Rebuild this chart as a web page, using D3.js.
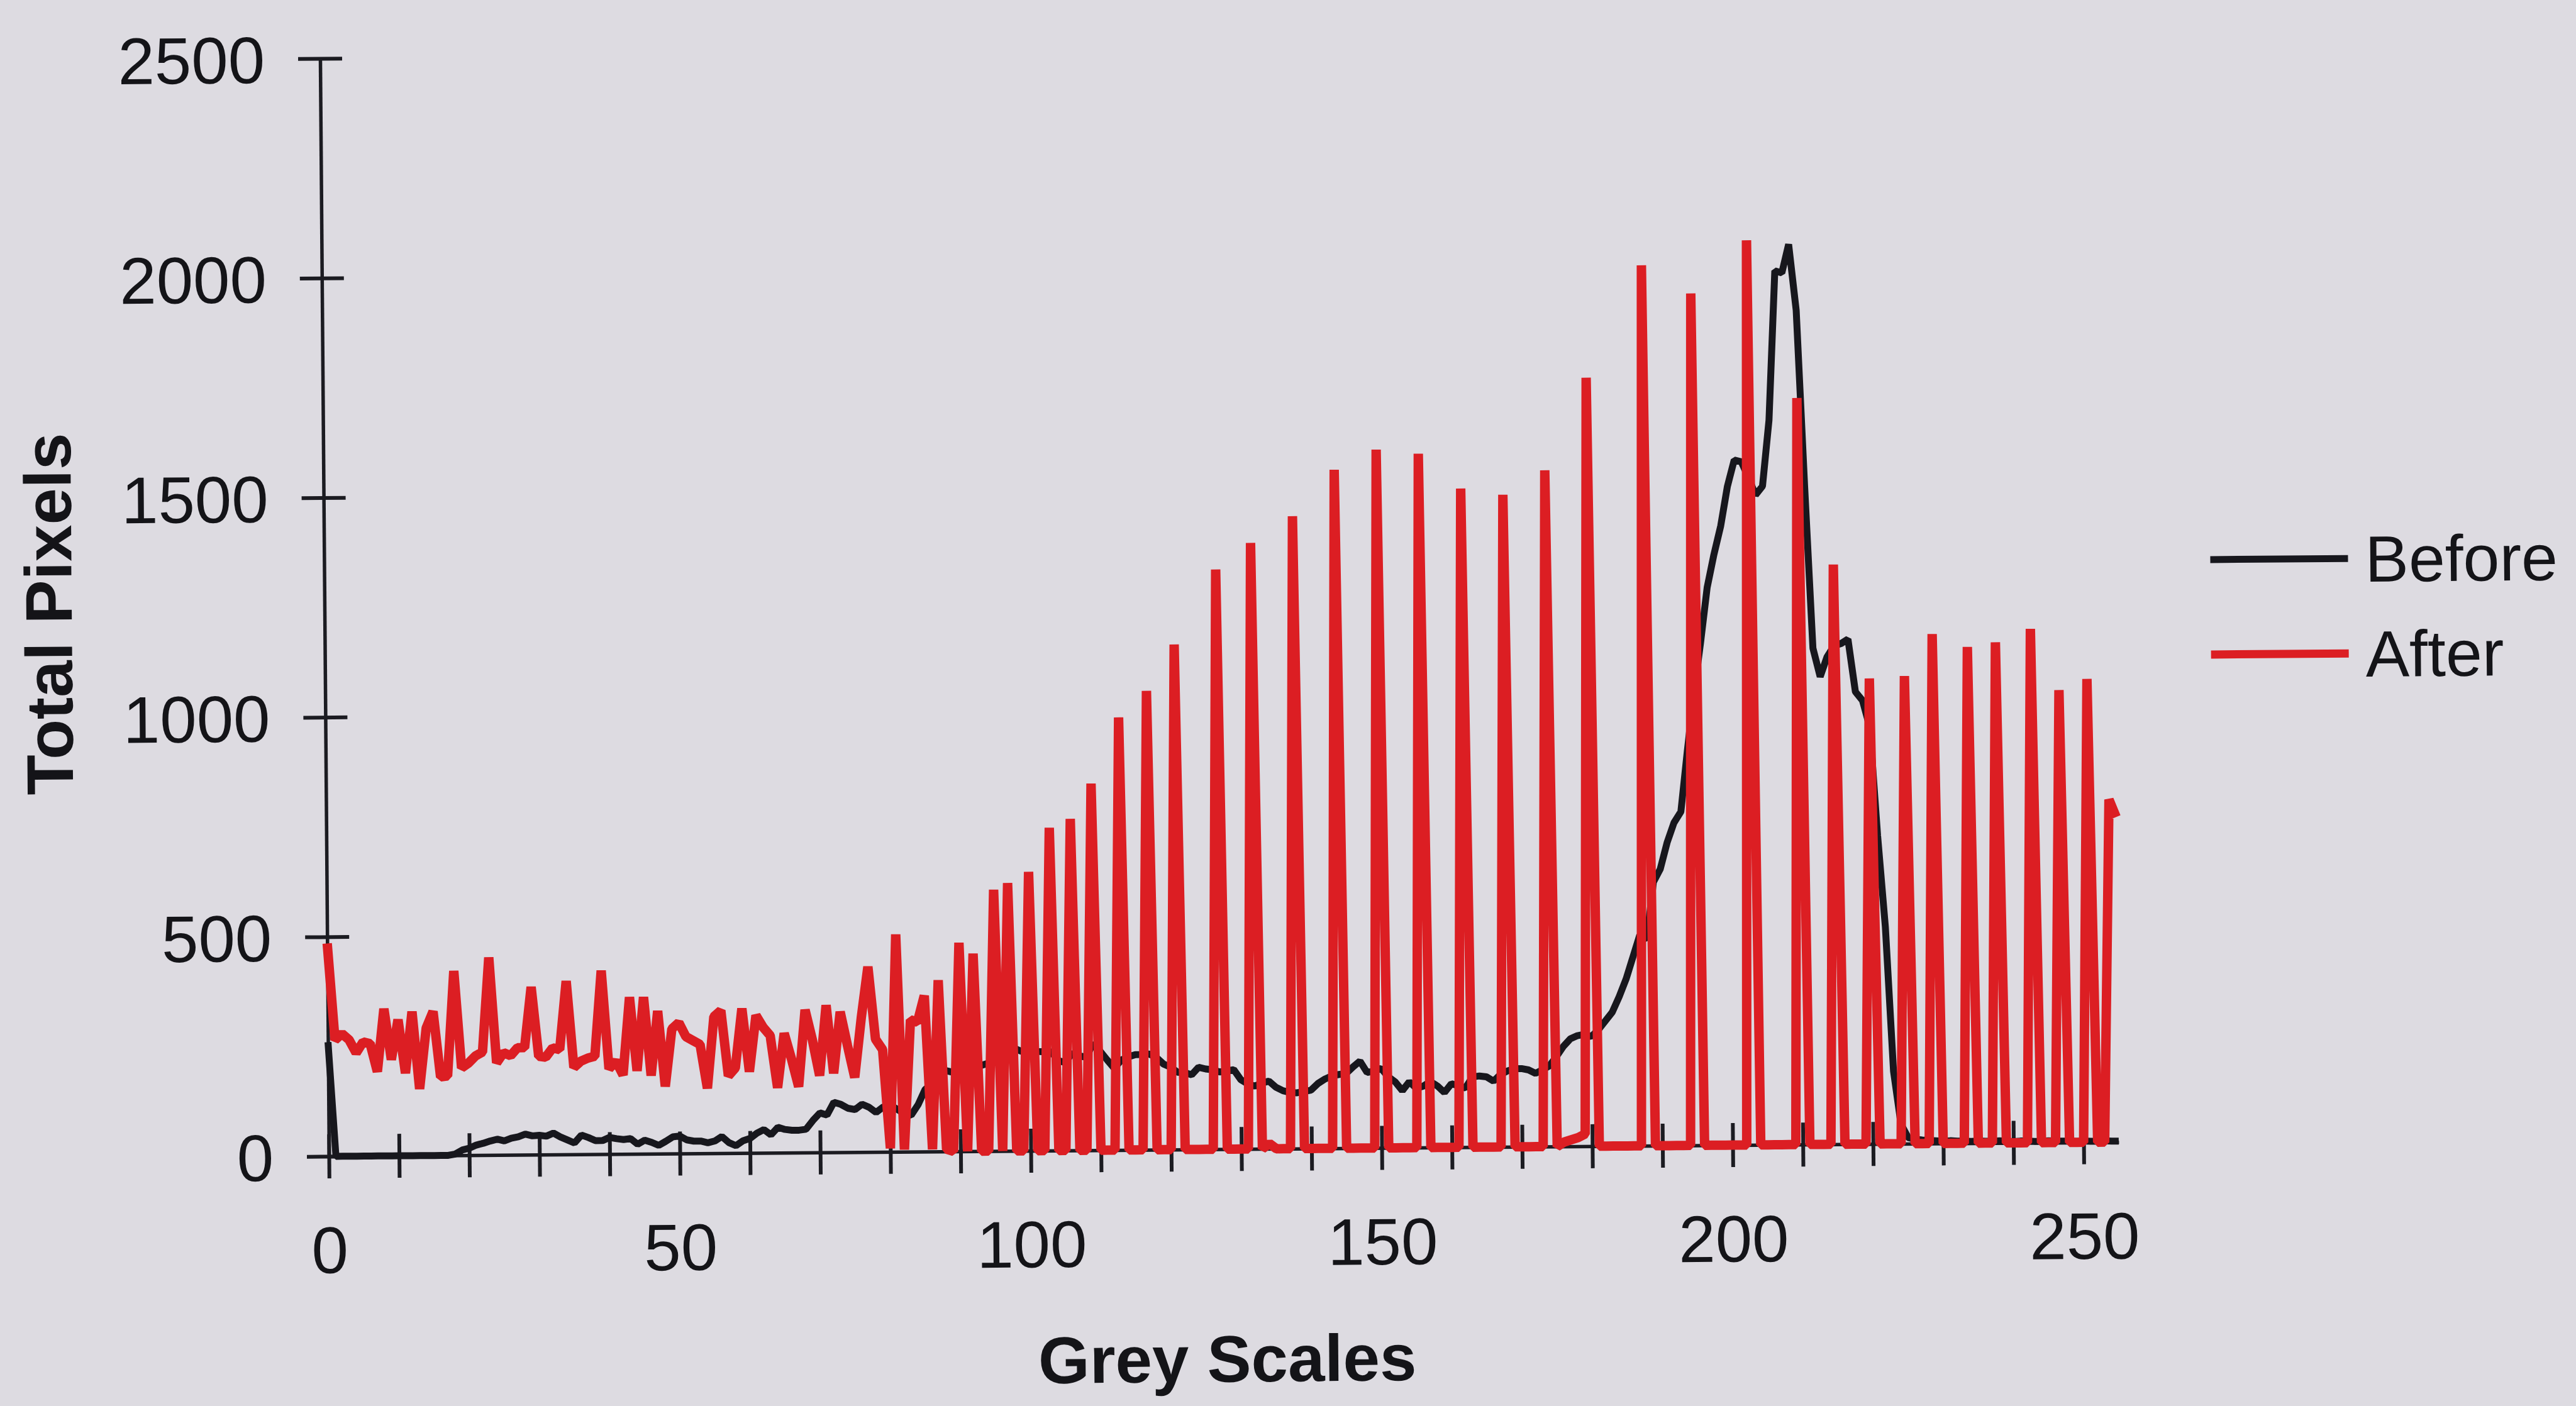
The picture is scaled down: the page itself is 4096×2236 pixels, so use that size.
<!DOCTYPE html>
<html>
<head>
<meta charset="utf-8">
<script src="https://cdn.jsdelivr.net/npm/d3@7"></script>
<style>
  html, body { margin: 0; padding: 0; background: #dddbe1; }
  svg { display: block; }
  text { font-family: "Liberation Sans", Arial, Helvetica, sans-serif; fill: #141418; }
</style>
</head>
<body>
<script>
// grey level histogram
const greyLevels = d3.range(0, 256);

const beforePixels = [
  260, 0, 0, 0, 0, 0, 0, 0, 0, 0,
  0, 0, 0, 0, 0, 0, 0, 0, 3, 12,
  16, 23, 27, 32, 36, 32, 38, 41, 47, 43,
  44, 42, 49, 40, 33, 26, 44, 38, 31, 31,
  38, 35, 33, 35, 22, 31, 26, 19, 28, 38,
  40, 31, 28, 28, 24, 28, 38, 24, 17, 28,
  33, 45, 53, 41, 58, 53, 51, 51, 53, 73,
  90, 85, 114, 109, 100, 97, 109, 102, 90, 102,
  107, 97, 87, 83, 107, 141, 155, 170, 184, 180,
  175, 190, 208, 195, 200, 208, 225, 238, 232, 225,
  230, 226, 225, 225, 205, 200, 221, 215, 212, 243,
  225, 205, 186, 205, 212, 217, 217, 218, 210, 195,
  188, 176, 175, 170, 187, 183, 181, 176, 178, 181,
  158, 148, 143, 150, 154, 140, 132, 128, 127, 130,
  133, 148, 158, 165, 168, 170, 185, 198, 172, 175,
  181, 162, 150, 130, 150, 135, 140, 150, 140, 125,
  145, 140, 135, 160, 162, 160, 150, 165, 173, 178,
  178, 175, 167, 175, 184, 205, 228, 245, 252, 255,
  250, 265, 285, 305, 340, 380, 430, 480, 470, 600,
  630, 690, 735, 760, 900, 1030, 1145, 1270, 1345, 1410,
  1500, 1560, 1556, 1520, 1480, 1500, 1650, 1990, 1985, 2050,
  1900, 1500, 1130, 1065, 1110, 1135, 1140, 1150, 1030, 1010,
  950, 702, 494, 165, 45, 14, 10, 8, 7, 6,
  5, 6, 5, 5, 4, 5, 4, 4, 5, 4,
  3, 4, 4, 3, 3, 4, 3, 3, 3, 2,
  3, 2, 2, 3, 2, 2
];

const afterPixels = [
  485, 265, 279, 265, 235, 260, 256, 192, 335, 219,
  310, 188, 328, 152, 290, 328, 179, 181, 420, 199,
  210, 226, 235, 450, 210, 233, 226, 244, 244, 382,
  224, 222, 243, 239, 395, 198, 212, 219, 223, 418,
  194, 212, 180, 357, 189, 357, 178, 325, 153, 284,
  298, 266, 257, 248, 148, 311, 325, 176, 194, 329,
  185, 313, 286, 267, 148, 272, 214, 150, 325, 257,
  175, 335, 180, 320, 243, 170, 306, 422, 257, 233,
  8, 495, 5, 300, 295, 355, 5, 390, 5, 0,
  475, 0, 450, 0, 0, 595, 0, 610, 0, 0,
  635, 0, 0, 735, 0, 0, 755, 0, 0, 835,
  0, 0, 0, 985, 0, 0, 0, 1045, 0, 0,
  0, 1150, 0, 0, 0, 0, 0, 1320, 0, 0,
  0, 0, 1380, 0, 12, 0, 0, 0, 1440, 0,
  0, 0, 0, 0, 1545, 0, 0, 0, 0, 0,
  1590, 0, 0, 0, 0, 0, 1580, 0, 0, 0,
  0, 0, 1500, 0, 0, 0, 0, 0, 1485, 0,
  0, 0, 0, 0, 1540, 0, 10, 15, 20, 28,
  1750, 0, 0, 0, 0, 0, 0, 0, 2005, 0,
  0, 0, 0, 0, 0, 1940, 0, 0, 0, 0,
  0, 0, 0, 2060, 0, 0, 0, 0, 0, 0,
  1700, 0, 0, 0, 0, 1320, 0, 0, 0, 0,
  1060, 0, 0, 0, 0, 1065, 0, 0, 0, 1160,
  0, 0, 0, 0, 1130, 0, 0, 0, 1140, 0,
  0, 0, 0, 1170, 0, 0, 0, 1030, 0, 0,
  0, 1055, 0, 0, 780, 740
];

const xTickValues = d3.range(0, 251, 10);
const xTickLabels = [0, 50, 100, 150, 200, 250];
const yTickValues = [0, 500, 1000, 1500, 2000, 2500];
const seriesNames = ["Before", "After"];
const seriesColors = ["#17171d", "#dc1e23"];

const width = 4096, height = 2236;
const axisColor = "#1b1b21";

const svg = d3.select("body").append("svg")
    .attr("width", width)
    .attr("height", height);

svg.append("rect")
    .attr("width", width)
    .attr("height", height)
    .attr("fill", "#dddbe1");

// the printed page was photographed slightly crooked, so tilt the whole chart a touch
const chart = svg.append("g")
    .attr("transform", "translate(523,1839) rotate(-0.46)");

var x = d3.scaleLinear().domain([0, 255]).range([0, 2846]);
var y = d3.scaleLinear().domain([0, 2500]).range([0, -1746]);

// x axis, ticks cross the line
var xAxis = chart.append("g")
    .call(d3.axisBottom(x)
        .tickValues(xTickValues)
        .tickSizeOuter(0)
        .tickSizeInner(35)
        .tickFormat(d => xTickLabels.includes(d) ? d : ""))
    .attr("font-size", 105)
    .attr("font-family", null);
xAxis.select(".domain").attr("stroke", axisColor).attr("stroke-width", 5.5);
xAxis.selectAll(".tick line")
    .attr("y1", -35).attr("y2", 35)
    .attr("stroke", axisColor).attr("stroke-width", 6);
xAxis.selectAll(".tick text")
    .attr("y", 111).attr("dy", "0.71em")
    .attr("fill", null);

// y axis
var yAxis = chart.append("g")
    .call(d3.axisLeft(y)
        .tickValues(yTickValues)
        .tickSizeOuter(0)
        .tickSizeInner(35)
        .tickFormat(d => d))
    .attr("font-size", 105)
    .attr("font-family", null);
yAxis.select(".domain").attr("stroke", axisColor).attr("stroke-width", 5.5);
yAxis.selectAll(".tick line")
    .attr("x1", -35).attr("x2", 35)
    .attr("stroke", axisColor).attr("stroke-width", 6);
yAxis.selectAll(".tick text")
    .attr("x", -88).attr("dy", "0.36em")
    .attr("fill", null);

// axis titles
chart.append("text")
    .attr("x", 1426).attr("y", 370)
    .attr("text-anchor", "middle")
    .attr("font-size", 105)
    .attr("font-weight", "bold")
    .text("Grey Scales");

chart.append("text")
    .attr("transform", "translate(-402,-866) rotate(-90)")
    .attr("text-anchor", "middle")
    .attr("font-size", 105)
    .attr("font-weight", "bold")
    .text("Total Pixels");

// series
var line = d3.line()
    .x((d, i) => x(greyLevels[i]))
    .y(d => y(d));

chart.append("path")
    .datum(beforePixels)
    .attr("fill", "none")
    .attr("stroke", seriesColors[0])
    .attr("stroke-width", 11)
    .attr("stroke-linejoin", "bevel")
    .attr("d", line);

chart.append("path")
    .datum(afterPixels)
    .attr("fill", "none")
    .attr("stroke", seriesColors[1])
    .attr("stroke-width", 15)
    .attr("stroke-linejoin", "bevel")
    .attr("d", line);

// legend
var legend = chart.append("g")
    .selectAll("g")
    .data(seriesNames)
    .enter().append("g")
    .attr("transform", (d, i) => `translate(2999,${-925 + i * 151})`);

legend.append("line")
    .attr("x1", 0).attr("x2", 219)
    .attr("stroke", (d, i) => seriesColors[i])
    .attr("stroke-width", (d, i) => i === 0 ? 11 : 13);

legend.append("text")
    .attr("x", 246).attr("y", 37)
    .attr("font-size", 104)
    .text(d => d);
</script>
</body>
</html>
